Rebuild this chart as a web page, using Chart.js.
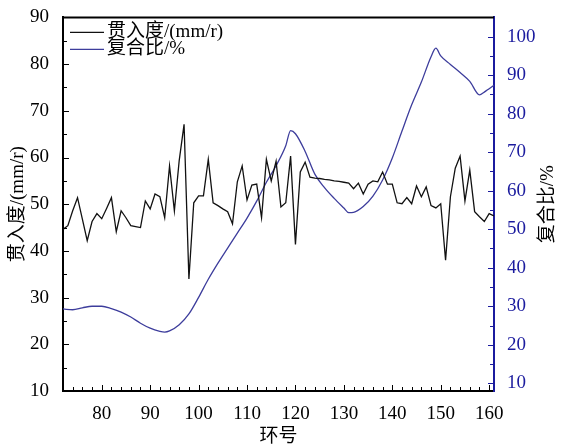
<!doctype html>
<html>
<head>
	<meta charset="utf-8">
	<title>贯入度与复合比</title>
	<style>
		html, body { margin: 0; padding: 0; background: #fff; }
		#canvas-holder { width: 565px; height: 448px; }
	</style>
</head>
<body>
	<div id="canvas-holder">
		<canvas id="chart-area"></canvas>
	</div>
	<script src="https://cdn.jsdelivr.net/npm/chart.js@4/dist/chart.umd.min.js"></script>
	<script>
	// 环号 (ring number) for the penetration series
	var rings = [
		72, 73, 74, 75, 76, 77, 78, 79, 80, 81, 82, 83, 84, 85, 86, 87, 88, 89, 90, 91,
		92, 93, 94, 95, 96, 97, 98, 99, 100, 101, 102, 103, 104, 105, 106, 107, 108, 109, 110, 111,
		112, 113, 114, 115, 116, 117, 118, 119, 120, 121, 122, 123, 124, 125, 126, 127, 128, 129, 130, 131,
		132, 133, 134, 135, 136, 137, 138, 139, 140, 141, 142, 143, 144, 145, 146, 147, 148, 149, 150, 151,
		152, 153, 154, 155, 156, 157, 158, 159, 160, 161
	];
	// 贯入度 (mm/r)
	var penetration = [
		44.6, 45.4, 48.6, 51.4, 46.8, 42.2, 46.3, 48.0, 46.9, 49.1, 51.4, 44.1, 48.6, 47.1, 45.4, 45.2, 45.0, 50.7, 49.0, 52.2,
		51.6, 47.1, 58.2, 48.6, 59.4, 67.1, 34.0, 50.3, 51.8, 51.8, 59.6, 50.3, 49.7, 49.0, 48.4, 45.8, 54.8, 58.2, 50.9, 54.1,
		54.3, 47.1, 59.6, 55.0, 59.2, 49.4, 50.3, 60.3, 41.4, 56.9, 59.0, 55.8, 55.6, 55.5, 55.3, 55.2, 55.0, 54.9, 54.7, 54.5,
		53.3, 54.5, 52.2, 54.3, 55.0, 54.8, 56.9, 54.3, 54.3, 50.3, 50.1, 51.4, 50.1, 53.9, 51.6, 53.7, 49.7, 49.2, 50.1, 38.0,
		51.6, 57.7, 60.3, 50.7, 57.3, 48.4, 47.3, 46.3, 48.0, 47.5
	];
	// 复合比 (%)
	var ratioRings = [
		72, 74, 76, 78, 80, 82, 84, 86, 88, 90, 92, 93, 94, 96, 98, 100, 102, 104, 106, 108,
		110, 112, 114, 116, 118, 119, 120, 122, 124, 126, 128, 130, 131, 132, 134, 136, 138, 140, 142, 144,
		146, 148, 149, 150, 152, 154, 156, 158, 159, 160, 161
	];
	var ratioValues = [
		29.3, 29.1, 29.6, 30.0, 30.0, 29.4, 28.5, 27.2, 25.6, 24.3, 23.5, 23.3, 23.6, 25.2, 28.0, 32.3, 37.0, 41.2, 45.1, 49.0,
		52.9, 57.3, 62.2, 66.5, 71.7, 75.6, 74.8, 70.2, 64.3, 60.8, 58.0, 55.5, 54.3, 54.4, 55.9, 58.6, 62.8, 68.5, 75.5, 82.3,
		88.2, 94.8, 97.0, 95.0, 92.8, 90.7, 88.4, 84.9, 85.6, 86.5, 87.4
	];
	var ringTicks = [80, 90, 100, 110, 120, 130, 140, 150, 160];
	var penTicks = [10, 20, 30, 40, 50, 60, 70, 80, 90];
	var ratioTicks = [10, 20, 30, 40, 50, 60, 70, 80, 90, 100];

	var serif = '"Liberation Serif", "Times New Roman", "Noto Sans CJK SC", serif';
	var blueAxis = '#1b1b9e';

	function pairs(xs, ys) {
		return xs.map(function(x, i) { return {x: x, y: ys[i]}; });
	}
	function keepTicks(list) {
		return function(scale) {
			scale.ticks = list.map(function(v) { return {value: v}; });
		};
	}

	// inward tick marks, top frame line, legend and the right axis title
	var decorations = {
		id: 'decorations',
		afterDraw: function(chart) {
			var ctx = chart.ctx, a = chart.chartArea;
			var sx = chart.scales.x, yl = chart.scales.y, yr = chart.scales.y1;
			var v, p, len;
			ctx.save();
			ctx.lineWidth = 1;
			ctx.strokeStyle = '#000';
			ctx.beginPath();
			for (v = 72; v <= 161; v += 2) {
				p = Math.round(sx.getPixelForValue(v)) + 0.5;
				len = (v % 10 === 0) ? 6 : 4;
				ctx.moveTo(p, a.bottom);
				ctx.lineTo(p, a.bottom - len);
			}
			for (v = 15; v < 90; v += 5) {
				p = Math.round(yl.getPixelForValue(v)) + 0.5;
				len = (v % 10 === 0) ? 6 : 4;
				ctx.moveTo(a.left, p);
				ctx.lineTo(a.left + len, p);
			}
			ctx.stroke();
			ctx.strokeStyle = blueAxis;
			ctx.beginPath();
			for (v = 10; v <= 100; v += 5) {
				p = Math.round(yr.getPixelForValue(v)) + 0.5;
				len = (v % 10 === 0) ? 6 : 4;
				ctx.moveTo(a.right, p);
				ctx.lineTo(a.right - len, p);
			}
			ctx.stroke();

			// top frame
			ctx.strokeStyle = '#000';
			ctx.lineWidth = 2;
			ctx.beginPath();
			ctx.moveTo(a.left - 1, a.top);
			ctx.lineTo(a.right, a.top);
			ctx.stroke();

			// legend inside the plot
			ctx.font = '19px ' + serif;
			ctx.textBaseline = 'middle';
			ctx.textAlign = 'left';
			chart.data.datasets.forEach(function(ds, i) {
				var y = a.top + 15 + i * 17;
				ctx.strokeStyle = ds.borderColor;
				ctx.lineWidth = 1.3;
				ctx.beginPath();
				ctx.moveTo(a.left + 7, y);
				ctx.lineTo(a.left + 41, y);
				ctx.stroke();
				ctx.fillStyle = '#000';
				ctx.fillText(ds.label, a.left + 44, y);
			});

			// right axis title
			ctx.translate(548, (a.top + a.bottom) / 2);
			ctx.rotate(-Math.PI / 2);
			ctx.textAlign = 'center';
			ctx.fillStyle = '#000';
			ctx.fillText('复合比/%', 0, 0);
			ctx.restore();
		}
	};

	var config = {
		type: 'line',
		data: {
			datasets: [{
				label: '贯入度/(mm/r)',
				data: pairs(rings, penetration),
				borderColor: '#111111',
				borderWidth: 1.3,
				pointRadius: 0,
				tension: 0,
				yAxisID: 'y'
			}, {
				label: '复合比/%',
				data: pairs(ratioRings, ratioValues),
				borderColor: '#3d3d9c',
				borderWidth: 1.3,
				pointRadius: 0,
				cubicInterpolationMode: 'monotone',
				yAxisID: 'y1'
			}]
		},
		options: {
			responsive: false,
			animation: false,
			layout: { padding: { top: 14, left: 0, right: 0, bottom: 0 } },
			plugins: {
				legend: { display: false },
				tooltip: { enabled: false }
			},
			scales: {
				x: {
					type: 'linear',
					min: 72,
					max: 161,
					afterBuildTicks: keepTicks(ringTicks),
					afterFit: function(s) { s.height = 57; },
					grid: { display: false },
					border: { display: true, color: '#000', width: 2 },
					ticks: { color: '#000', padding: 4, maxRotation: 0, font: { family: serif, size: 19 } },
					title: { display: true, text: '环号', color: '#000', padding: { top: 0, bottom: 0 }, font: { family: serif, size: 19 } }
				},
				y: {
					position: 'left',
					min: 10,
					max: 90,
					afterBuildTicks: keepTicks(penTicks),
					afterFit: function(s) { s.width = 63; },
					grid: { display: false },
					border: { display: true, color: '#000', width: 2 },
					ticks: { color: '#000', padding: 6, font: { family: serif, size: 19 } },
					title: { display: true, text: '贯入度/(mm/r)', color: '#000', padding: { top: 7, bottom: 0 }, font: { family: serif, size: 19 } }
				},
				y1: {
					position: 'right',
					min: 8,
					max: 105,
					afterBuildTicks: keepTicks(ratioTicks),
					afterFit: function(s) { s.width = 71; },
					grid: { display: false },
					border: { display: true, color: blueAxis, width: 2 },
					ticks: { color: blueAxis, padding: 5, font: { family: serif, size: 19 } }
				}
			}
		},
		plugins: [decorations]
	};

	window.onload = function() {
		var canvas = document.getElementById('chart-area');
		canvas.width = 565;
		canvas.height = 448;
		var ctx = canvas.getContext('2d');
		window.myChart = new Chart(ctx, config);
	};
	</script>
</body>
</html>
